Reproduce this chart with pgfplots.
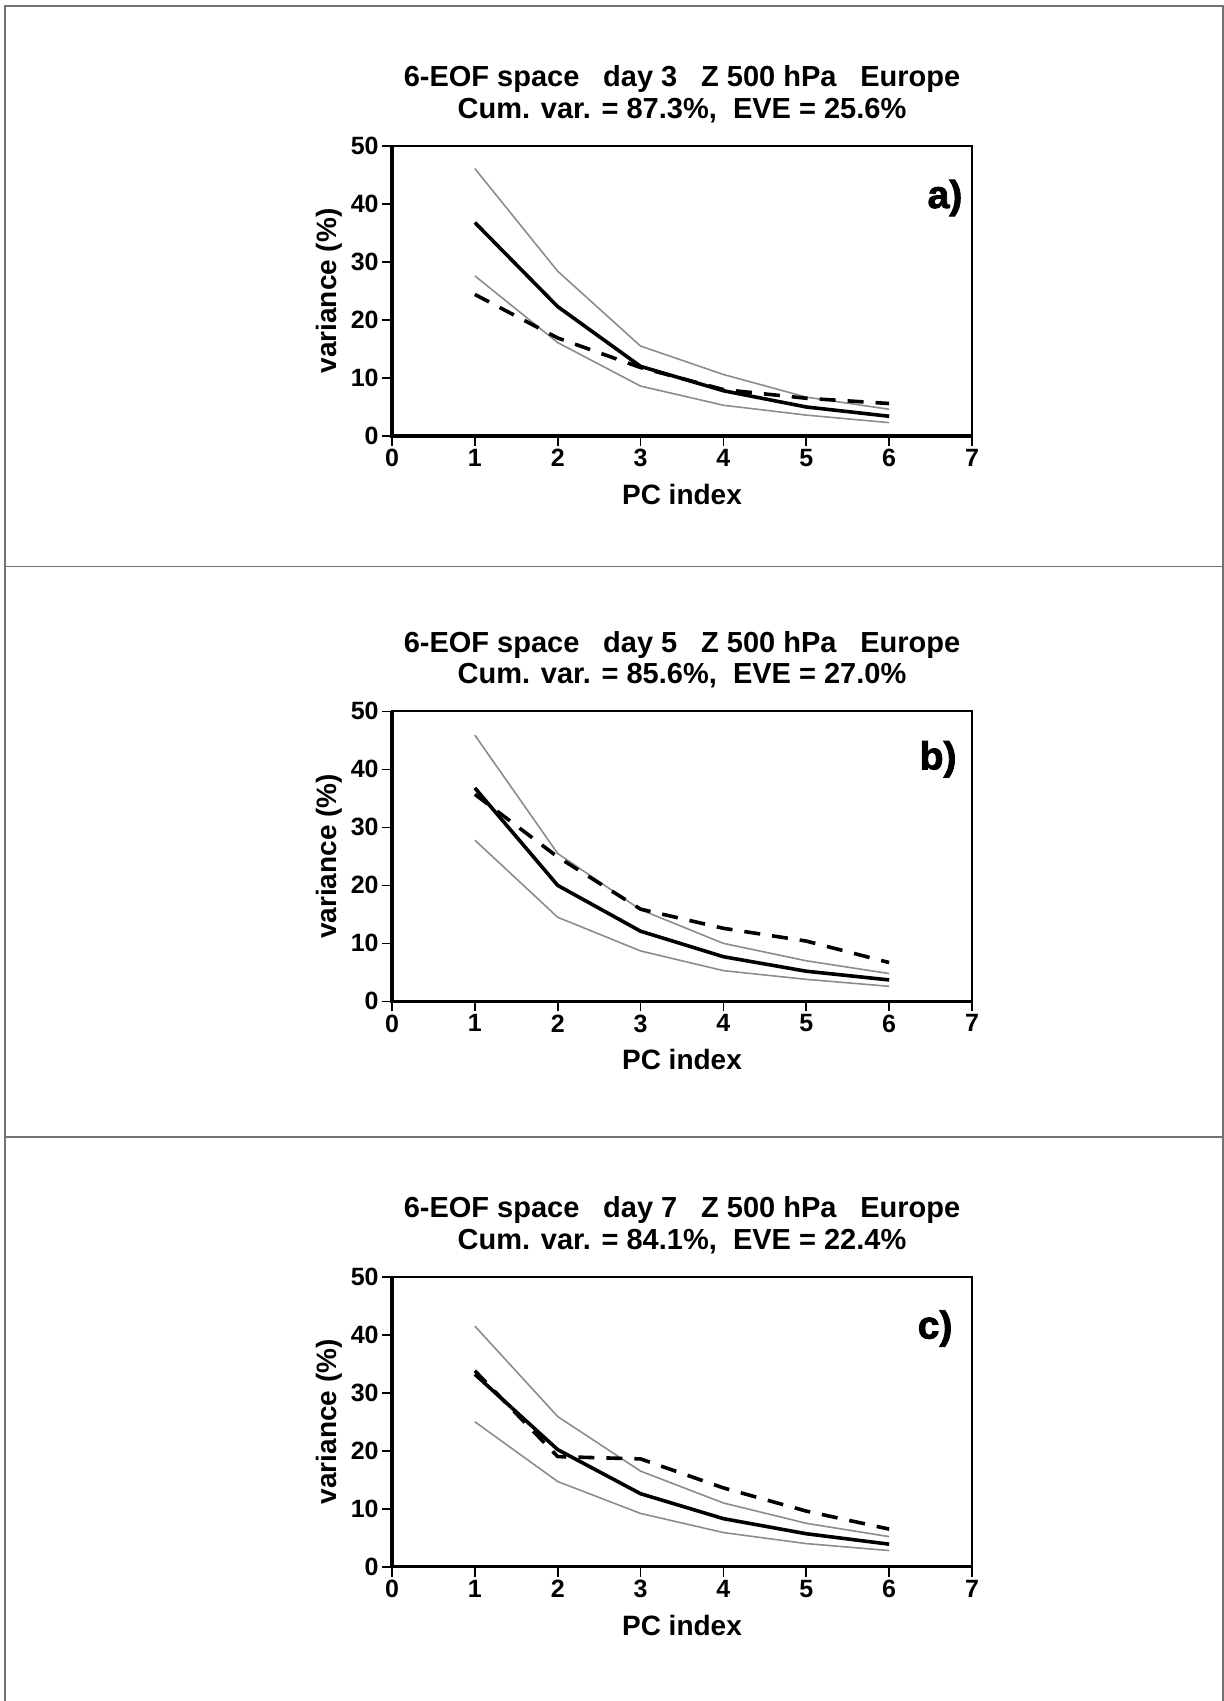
\documentclass[border=0pt]{standalone}
\usepackage{fontspec}
\setmainfont{Liberation Sans}
\newfontfamily\heavy{Liberation Sans}[BoldFeatures={FakeBold=2.2}]
\usepackage{pgfplots}
\pgfplotsset{compat=1.18}
\definecolor{bandgray}{gray}{0.55}
\definecolor{framegray}{gray}{0.45}
\newcommand\gap{\hspace{0.82em}}
\newcommand\titlefont{\fontsize{14.5}{16}\selectfont\bfseries}
\pgfplotsset{
  panel/.style={
    scale only axis, width=290pt, height=145pt,
    xmin=0, xmax=7, ymin=0, ymax=50,
    xtick={0,1,...,7}, ytick={0,10,...,50},
    tick align=outside, tick pos=left, major tick length=5pt,
    tick style={black, line width=0.8pt},
    axis line style={line width=0.9pt},
    clip=false,
    /pgf/number format/assume math mode=true,
    tick label style={font=\fontsize{12.5}{13}\selectfont\bfseries, inner sep=1.5pt},
    xlabel={PC index}, ylabel={variance (\%)},
    label style={font=\fontsize{14}{16}\selectfont\bfseries},
    xlabel style={at={(axis description cs:0.5,0)}, anchor=base, yshift=-34.3pt},
    ylabel style={at={(axis description cs:0,0.5)}, anchor=base, yshift=28pt},
  },
  upper/.style={bandgray, line width=0.8pt},
  lower/.style={bandgray, line width=0.8pt},
  mean/.style={black, line width=1.8pt},
  dash/.style={black, line width=1.8pt, dash pattern=on 8pt off 6pt},
}
\begin{document}
\begin{tikzpicture}
\useasboundingbox (0,0) rectangle (612pt,850.5pt);
\draw[framegray, line width=0.8pt] (2.5pt,0) -- (2.5pt,847.5pt) -- (611.5pt,847.5pt) -- (611.5pt,0);
\draw[framegray, line width=0.8pt] (2.5pt,567.3pt) -- (611.5pt,567.3pt);
\draw[framegray, line width=0.8pt] (2.5pt,281.9pt) -- (611.5pt,281.9pt);

% ---------------- panel a ----------------
\begin{axis}[panel, at={(196pt,632.5pt)}, anchor=south west]
\addplot[upper] coordinates {(1,46.1) (2,28.4) (3,15.5) (4,10.6) (5,6.7) (6,4.6)};
\addplot[lower] coordinates {(1,27.6) (2,16.1) (3,8.6) (4,5.3) (5,3.6) (6,2.3)};
\addplot[dash] coordinates {(1,24.4) (2,16.9) (3,11.8) (4,8.0) (5,6.5) (6,5.6)};
\addplot[mean] coordinates {(1,36.8) (2,22.3) (3,12.0) (4,7.8) (5,5.0) (6,3.4)};
\draw[line width=1.6pt] (rel axis cs:0,1) -- (rel axis cs:0,0) -- (rel axis cs:1,0);
\node[anchor=base, font=\titlefont, yshift=29.5pt] at (rel axis cs:0.5,1) {6-EOF space\gap day 3\gap Z 500 hPa\gap Europe};
\node[anchor=base, font=\titlefont, yshift=13.75pt] at (rel axis cs:0.5,1) {Cum. var. = 87.3\%,\ \ EVE = 25.6\%};
\node[anchor=base east, inner sep=0pt] at (rel axis cs:0.984,0.786) {\fontsize{19.5}{21}\selectfont\heavy\bfseries a)};
\end{axis}

% ---------------- panel b ----------------
\begin{axis}[panel, at={(196pt,349.8pt)}, anchor=south west]
\addplot[upper] coordinates {(1,45.9) (2,25.5) (3,15.8) (4,10.0) (5,7.0) (6,4.8)};
\addplot[lower] coordinates {(1,27.8) (2,14.5) (3,8.7) (4,5.3) (5,3.8) (6,2.6)};
\addplot[dash] coordinates {(1,35.7) (2,24.9) (3,15.9) (4,12.6) (5,10.4) (6,6.7)};
\addplot[mean] coordinates {(1,36.8) (2,20.0) (3,12.1) (4,7.7) (5,5.2) (6,3.7)};
\draw[line width=1.6pt] (rel axis cs:0,1) -- (rel axis cs:0,0) -- (rel axis cs:1,0);
\node[anchor=base, font=\titlefont, yshift=29.5pt] at (rel axis cs:0.5,1) {6-EOF space\gap day 5\gap Z 500 hPa\gap Europe};
\node[anchor=base, font=\titlefont, yshift=13.75pt] at (rel axis cs:0.5,1) {Cum. var. = 85.6\%,\ \ EVE = 27.0\%};
\node[anchor=base east, inner sep=0pt] at (rel axis cs:0.974,0.80) {\fontsize{19.5}{21}\selectfont\heavy\bfseries b)};
\end{axis}

% ---------------- panel c ----------------
\begin{axis}[panel, at={(196pt,67.1pt)}, anchor=south west]
\addplot[upper] coordinates {(1,41.5) (2,25.9) (3,16.5) (4,11.0) (5,7.5) (6,5.2)};
\addplot[lower] coordinates {(1,25.0) (2,14.7) (3,9.2) (4,5.9) (5,4.0) (6,2.8)};
\addplot[dash] coordinates {(1,33.8) (2,19.0) (3,18.6) (4,13.6) (5,9.6) (6,6.5)};
\addplot[mean] coordinates {(1,33.2) (2,20.2) (3,12.6) (4,8.3) (5,5.7) (6,3.9)};
\draw[line width=1.6pt] (rel axis cs:0,1) -- (rel axis cs:0,0) -- (rel axis cs:1,0);
\node[anchor=base, font=\titlefont, yshift=29.5pt] at (rel axis cs:0.5,1) {6-EOF space\gap day 7\gap Z 500 hPa\gap Europe};
\node[anchor=base, font=\titlefont, yshift=13.75pt] at (rel axis cs:0.5,1) {Cum. var. = 84.1\%,\ \ EVE = 22.4\%};
\node[anchor=base east, inner sep=0pt] at (rel axis cs:0.967,0.787) {\fontsize{19.5}{21}\selectfont\heavy\bfseries c)};
\end{axis}
\end{tikzpicture}
\end{document}
